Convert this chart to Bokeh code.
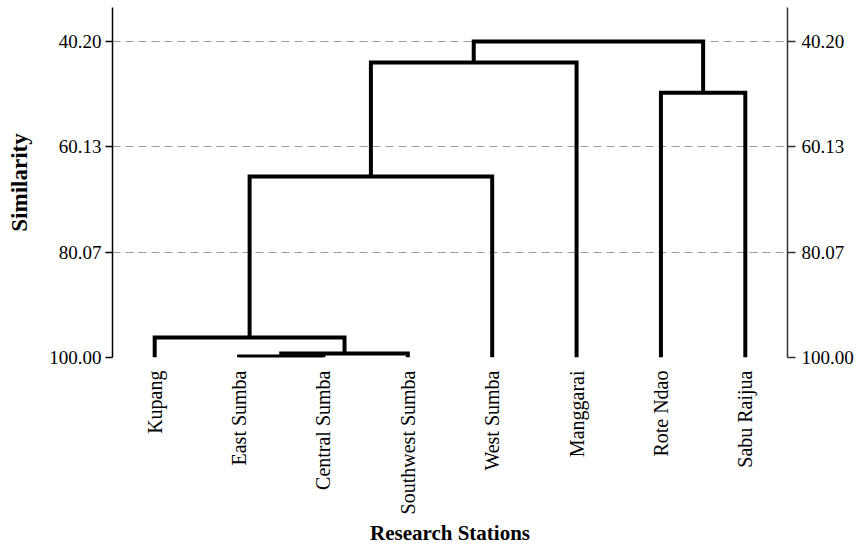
import math
from bokeh.plotting import figure
from bokeh.models import Range1d, FixedTicker, LinearAxis, PrintfTickFormatter
from bokeh.embed import file_html
from bokeh.resources import INLINE

# ---- data ----
stations = ["Kupang", "East Sumba", "Central Sumba", "Southwest Sumba",
            "West Sumba", "Manggarai", "Rote Ndao", "Sabu Raijua"]
# merges: children are leaf indices (0..7) or node ids (8 + merge index)
merge_left = [1, 8, 0, 10, 11, 6, 12]
merge_right = [2, 3, 9, 4, 5, 7, 13]
merge_similarity = [99.81, 99.24, 96.2, 65.75, 44.17, 49.9, 40.2]
sim_ticks = [40.20, 60.13, 80.07, 100.00]

# ---- dendrogram geometry from the merge table ----
pos = {i: float(i) for i in range(len(stations))}
hgt = {i: 100.0 for i in range(len(stations))}
xs, ys = [], []
for k, (a, b, s) in enumerate(zip(merge_left, merge_right, merge_similarity)):
    node = len(stations) + k
    xs.append([pos[a], pos[a], pos[b], pos[b]])
    ys.append([hgt[a], s, s, hgt[b]])
    pos[node] = (pos[a] + pos[b]) / 2
    hgt[node] = s

FONT = "Liberation Serif"

p = figure(width=858, height=555, output_backend="svg", toolbar_location=None,
           x_range=Range1d(-0.5, len(stations) - 0.5),
           y_range=Range1d(100, 33.75),
           min_border_left=112, min_border_right=71, min_border_top=7,
           min_border_bottom=198)
p.outline_line_color = None
p.background_fill_color = "white"
p.border_fill_color = "white"

p.multi_line(xs, ys, line_color="black", line_width=4, line_join="miter")

ticker = FixedTicker(ticks=sim_ticks)
fmt = PrintfTickFormatter(format="%.2f")

# x axis
xa = p.xaxis[0]
xa.ticker = FixedTicker(ticks=list(range(len(stations))))
xa.major_label_overrides = {i: n for i, n in enumerate(stations)}
xa.major_label_orientation = math.pi / 2
xa.axis_line_color = None
xa.major_tick_line_color = None
xa.minor_tick_line_color = None
xa.major_tick_out = 0
xa.major_tick_in = 0
xa.major_label_standoff = 13
xa.major_label_text_font = FONT
xa.major_label_text_font_size = "20px"
xa.major_label_text_color = "black"
xa.axis_label = "Research Stations"
xa.axis_label_text_font = FONT
xa.axis_label_text_font_style = "bold"
xa.axis_label_text_font_size = "21px"
xa.axis_label_text_color = "black"
xa.axis_label_standoff = 4

# left y axis
ya = p.yaxis[0]
ya.ticker = ticker
ya.formatter = fmt
ya.axis_line_color = "black"
ya.axis_line_width = 1.5
ya.major_tick_line_color = "black"
ya.major_tick_line_width = 1.5
ya.major_tick_out = 7
ya.major_tick_in = 0
ya.minor_tick_line_color = None
ya.major_label_standoff = 4
ya.major_label_text_font = FONT
ya.major_label_text_font_size = "19px"
ya.major_label_text_color = "black"
ya.axis_label = "Similarity"
ya.axis_label_text_font = FONT
ya.axis_label_text_font_style = "bold"
ya.axis_label_text_font_size = "23px"
ya.axis_label_text_color = "black"
ya.axis_label_standoff = 14

# right y axis
ra = LinearAxis(ticker=ticker, formatter=fmt)
ra.axis_line_color = "#333333"
ra.axis_line_width = 1.5
ra.major_tick_line_color = "#333333"
ra.major_tick_line_width = 1.5
ra.major_tick_out = 8
ra.major_tick_in = 0
ra.minor_tick_line_color = None
ra.major_label_standoff = 6
ra.major_label_text_font = FONT
ra.major_label_text_font_size = "19px"
ra.major_label_text_color = "black"
p.add_layout(ra, "right")

p.xgrid.visible = False
p.ygrid.ticker = ticker
p.ygrid.grid_line_color = "#9a9a9a"
p.ygrid.grid_line_width = 1
p.ygrid.grid_line_dash = "8 5"

open("out.html", "w").write(file_html(p, INLINE))
